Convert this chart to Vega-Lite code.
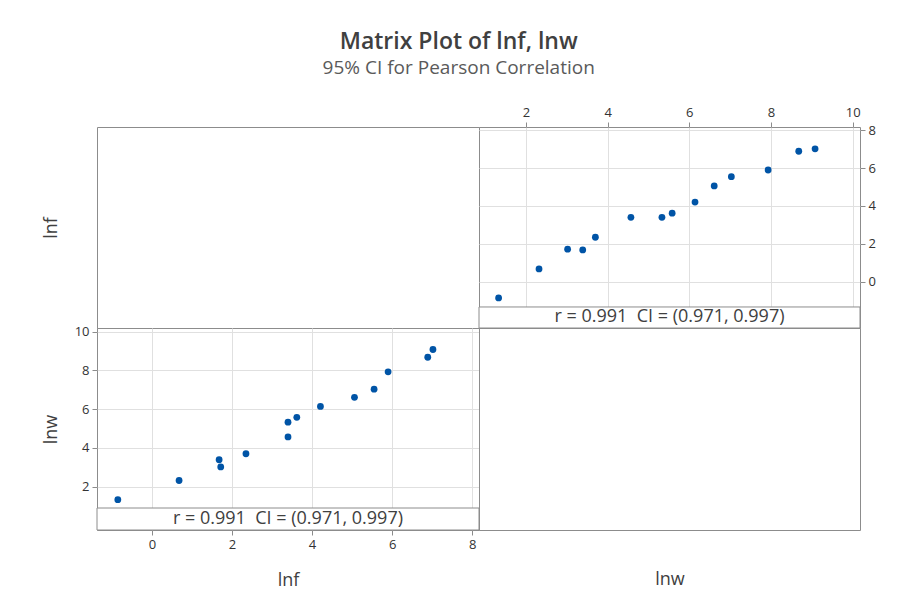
{
  "$schema": "https://vega.github.io/schema/vega-lite/v6.json",
  "background": "white",
  "padding": {"left": 41, "top": 30, "right": 10, "bottom": 10},
  "title": {
    "text": "Matrix Plot of lnf, lnw",
    "subtitle": "95% CI for Pearson Correlation",
    "anchor": "middle",
    "fontSize": 23,
    "fontWeight": 600,
    "color": "#404040",
    "subtitleFontSize": 19,
    "subtitleColor": "#5a5a5a",
    "font": "Open Sans",
    "subtitleFont": "Open Sans",
    "subtitlePadding": 5,
    "offset": 28
  },
  "datasets": {
    "pts": [
      {"lnf": -0.85, "lnw": 1.33},
      {"lnf": 0.68, "lnw": 2.32},
      {"lnf": 1.68, "lnw": 3.39},
      {"lnf": 1.72, "lnw": 3.02},
      {"lnf": 2.35, "lnw": 3.70},
      {"lnf": 3.40, "lnw": 4.57},
      {"lnf": 3.40, "lnw": 5.33},
      {"lnf": 3.62, "lnw": 5.58},
      {"lnf": 4.21, "lnw": 6.14},
      {"lnf": 5.06, "lnw": 6.61},
      {"lnf": 5.55, "lnw": 7.03},
      {"lnf": 5.90, "lnw": 7.93},
      {"lnf": 6.89, "lnw": 8.68},
      {"lnf": 7.02, "lnw": 9.08}
    ],
    "r": [{"label": "r = 0.991 \u00a0CI = (0.971, 0.997)"}]
  },
  "config": {
    "font": "Open Sans",
    "view": {"stroke": "#8c8c8c", "strokeWidth": 1},
    "axis": {
      "labelFontSize": 13,
      "labelColor": "#333333",
      "titleFontSize": 18,
      "titleFontWeight": "normal",
      "titleColor": "#404040",
      "tickColor": "#8c8c8c",
      "tickSize": 5,
      "domain": false,
      "gridColor": "#e0e0e0",
      "labelPadding": 3
    }
  },
  "columns": 2,
  "spacing": 0,
  "bounds": "flush",
  "concat": [
    {
      "width": 382,
      "height": 201,
      "data": {"name": "pts"},
      "mark": {"type": "point", "opacity": 0},
      "encoding": {
        "y": {
          "field": "lnf",
          "type": "quantitative",
          "scale": {"domain": [-1.35, 8.17], "nice": false, "zero": false},
          "axis": {"title": "lnf", "labels": false, "ticks": false, "grid": false, "titlePadding": 37}
        }
      }
    },
    {
      "width": 381,
      "height": 201,
      "layer": [
        {
          "data": {"name": "pts"},
          "mark": {"type": "circle", "size": 46, "color": "#0054A6", "opacity": 1},
          "encoding": {
            "x": {
              "field": "lnw",
              "type": "quantitative",
              "scale": {"domain": [0.85, 10.18], "nice": false, "zero": false},
              "axis": {"orient": "top", "title": null, "values": [2, 4, 6, 8, 10]}
            },
            "y": {
              "field": "lnf",
              "type": "quantitative",
              "scale": {"domain": [-2.44, 8.17], "nice": false, "zero": false},
              "axis": {"orient": "right", "title": null, "values": [0, 2, 4, 6, 8]}
            }
          }
        },
        {
          "data": {"name": "r"},
          "mark": {"type": "rect", "fill": "white", "stroke": "#8c8c8c", "strokeWidth": 1},
          "encoding": {"y": {"datum": -1.33}, "y2": {"datum": -2.44}}
        },
        {
          "data": {"name": "r"},
          "mark": {"type": "text", "fontSize": 18, "color": "#404040"},
          "encoding": {"y": {"datum": -1.885}, "text": {"field": "label", "type": "nominal"}}
        }
      ]
    },
    {
      "width": 382,
      "height": 202,
      "layer": [
        {
          "data": {"name": "pts"},
          "mark": {"type": "circle", "size": 46, "color": "#0054A6", "opacity": 1},
          "encoding": {
            "x": {
              "field": "lnf",
              "type": "quantitative",
              "scale": {"domain": [-1.37, 8.17], "nice": false, "zero": false},
              "axis": {"orient": "bottom", "title": "lnf", "values": [0, 2, 4, 6, 8], "titlePadding": 20}
            },
            "y": {
              "field": "lnw",
              "type": "quantitative",
              "scale": {"domain": [-0.235, 10.19], "nice": false, "zero": false},
              "axis": {"orient": "left", "title": "lnw", "values": [2, 4, 6, 8, 10], "titlePadding": 14}
            }
          }
        },
        {
          "data": {"name": "r"},
          "mark": {"type": "rect", "fill": "white", "stroke": "#8c8c8c", "strokeWidth": 1},
          "encoding": {"y": {"datum": 0.9}, "y2": {"datum": -0.235}}
        },
        {
          "data": {"name": "r"},
          "mark": {"type": "text", "fontSize": 18, "color": "#404040"},
          "encoding": {"y": {"datum": 0.33}, "text": {"field": "label", "type": "nominal"}}
        }
      ]
    },
    {
      "width": 381,
      "height": 202,
      "data": {"name": "pts"},
      "mark": {"type": "point", "opacity": 0},
      "encoding": {
        "x": {
          "field": "lnw",
          "type": "quantitative",
          "scale": {"domain": [0.85, 10.18], "nice": false, "zero": false},
          "axis": {"title": "lnw", "labels": false, "ticks": false, "grid": false, "titlePadding": 40}
        }
      }
    }
  ]
}
